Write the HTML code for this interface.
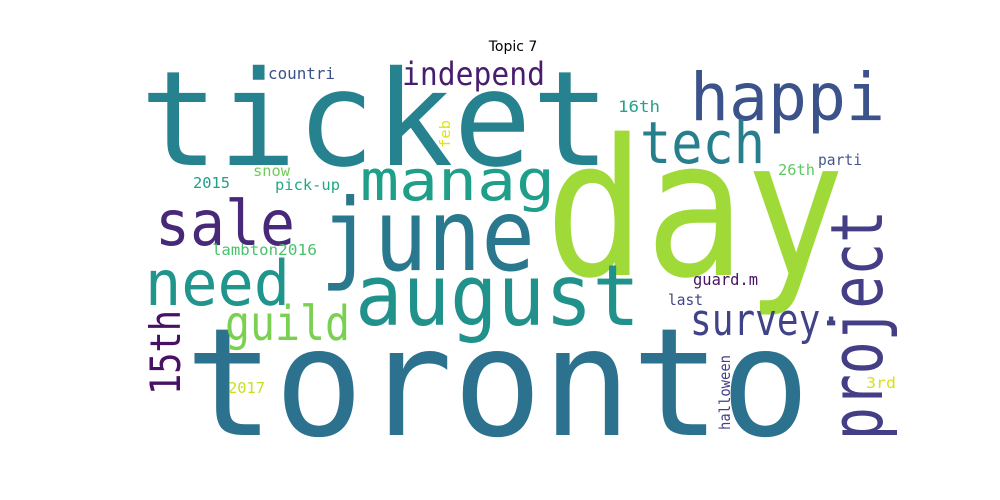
<!DOCTYPE html>
<html><head><meta charset="utf-8"><style>
html,body{margin:0;padding:0;background:#fff;width:1000px;height:500px;overflow:hidden}
svg text{font-family:"DejaVu Sans Mono","Liberation Mono",monospace}
</style></head><body>
<svg id="cloud" width="1000" height="500" viewBox="0 0 1000 500" xmlns="http://www.w3.org/2000/svg">
<text x="513" y="51" text-anchor="middle" style="font-family:'DejaVu Sans','Liberation Sans',sans-serif" font-size="14" fill="#000">Topic 7</text>
</svg>
<script>
const words  = ["ticket","day","toronto","june","august","happi","tech","manag","sale","need","guild","independ","15th","project","survey·","countri","16th","feb","2015","snow","pick-up","26th","parti","lambton","2016","guard.m","last","halloween","2017","3rd"];
const sizes  = [132,190,150,100,85,66,58,56,62,62,48,32,42,72,44,16,16,14,15,15,15,15,15,15,15,16,15,15,15,15];
const colors = ["#26828e","#a0da39","#2c728e","#2a788e","#21918c","#3b528b","#277f8e","#1f9e89","#482878","#1f958b","#7ad151","#481d6f","#471164","#433e85","#404387","#3b528b","#25a18e","#dde318","#1f9e89","#6ece58","#22a884","#5ec962","#46578b","#4ac16d","#4ac16d","#471063","#414487","#433e85","#c8e020","#d8e219"];
const rotated= [0,0,0,0,0,0,0,0,0,0,0,0,1,1,0,0,0,1,0,0,0,0,0,0,0,0,0,1,0,0];
const anchorX= [140,545,185,320,355,690,640,360,155,145,225,402,180,882,690,268,618,450,193,253,275,778,818,212,278,693,668,730,228,866];
const anchorY= [165,275,435,270,325,120,163,200,245,305,340,85,395,440,335,79,112,148,188,176,190,175,165,255,255,285,305,430,393,388];
const spans  = [470,300,625,215,285,195,125,195,140,145,125,143,85,230,152,67,42,28,37,37,65,37,44,66,39,65,35,75,37,30];
const svg = document.getElementById('cloud');
for (let i = 0; i < words.length; i++) {
  const t = document.createElementNS('http://www.w3.org/2000/svg','text');
  
  
  t.setAttribute('x', anchorX[i]);
  t.setAttribute('y', anchorY[i]);
  t.setAttribute('font-size', sizes[i]);
  t.setAttribute('fill', colors[i]);
  t.setAttribute('textLength', spans[i]);
  t.setAttribute('lengthAdjust', 'spacingAndGlyphs');
  if (rotated[i]) t.setAttribute('transform', 'rotate(-90 ' + anchorX[i] + ' ' + anchorY[i] + ')');
  t.textContent = words[i];
  svg.appendChild(t);
}
</script>
</body></html>
